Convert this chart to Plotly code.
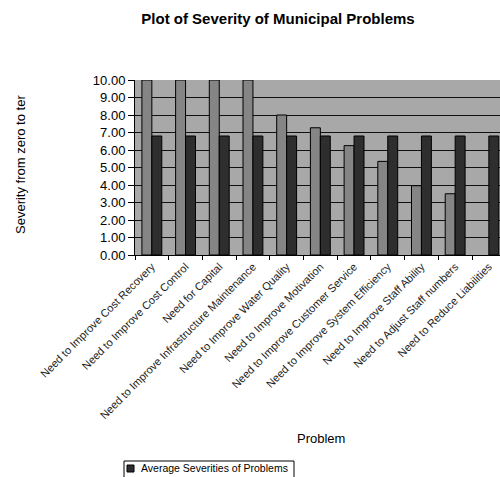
import plotly.graph_objects as go

# Problem categories and their severity scores
problems = [
    "Need to Improve Cost Recovery",
    "Need to Improve Cost Control",
    "Need for Capital",
    "Need to Improve Infrastructure Maintenance",
    "Need to Improve Water Quality",
    "Need to Improve Motivation",
    "Need to Improve Customer Service",
    "Need to Improve System Efficiency",
    "Need to Improve Staff Ability",
    "Need to Adjust Staff numbers",
    "Need to Reduce Liabilities",
]
severity = [10.0, 10.0, 10.0, 10.0, 8.0, 7.27, 6.25, 5.35, 3.96, 3.5, None]
average_severity = [6.8] * len(problems)
y_ticks = [0, 1, 2, 3, 4, 5, 6, 7, 8, 9, 10]
legend_label = "Average Severities of Problems"

FONT = "Liberation Sans, Arial, sans-serif"
GRAY_BAR = "#858585"
DARK_BAR = "#2E2E2E"

fig = go.Figure()
fig.add_trace(go.Bar(
    x=problems, y=severity, name="Severity",
    marker=dict(color=GRAY_BAR, line=dict(color="#000000", width=1)),
))
fig.add_trace(go.Bar(
    x=problems, y=average_severity, name=legend_label,
    marker=dict(color=DARK_BAR, line=dict(color="#000000", width=1)),
))

W, H = 500, 477
L, T, B = 135, 80, 222
plot_w = W - L
plot_h = H - T - B
cat_w = 33.7


# Convert page pixels into paper fractions of the plotting area
def px_x(px):
    return (px - L) / plot_w


def px_y(py):
    return (H - B - py) / plot_h


legend_shapes = [
    dict(type="rect", xref="paper", yref="paper",
         x0=px_x(124), x1=px_x(294), y0=px_y(461), y1=px_y(485),
         line=dict(color="#000000", width=1), fillcolor="white",
         layer="above"),
    dict(type="rect", xref="paper", yref="paper",
         x0=px_x(127), x1=px_x(134), y0=px_y(465), y1=px_y(472),
         line=dict(color="#000000", width=1), fillcolor=DARK_BAR,
         layer="above"),
]

fig.update_layout(
    width=W, height=H,
    margin=dict(l=L, r=0, t=T, b=B, pad=0),
    paper_bgcolor="white",
    plot_bgcolor="#A8A8A8",
    barmode="group",
    bargap=0.41,
    bargroupgap=0,
    showlegend=False,
    font=dict(family=FONT, color="#000000"),
    title=dict(
        text="<b>Plot of Severity of Municipal Problems</b>",
        x=0.556, xanchor="center", y=1 - 19 / H, yanchor="middle",
        font=dict(size=15, family=FONT),
    ),
    xaxis=dict(
        range=[-0.5, -0.5 + plot_w / cat_w],
        tickangle=-45,
        tickfont=dict(size=11, family=FONT, color="#222222"),
        ticks="outside", ticklen=4, tickcolor="#000000",
        tickson="boundaries",
        showline=True, linecolor="#000000", linewidth=1,
        showgrid=False,
        automargin=False,
    ),
    yaxis=dict(
        range=[0, 10],
        tickvals=y_ticks,
        tickformat=".2f",
        tickfont=dict(size=13, family=FONT),
        ticks="outside", ticklen=6, tickcolor="#000000",
        showline=True, linecolor="#000000", linewidth=1,
        showgrid=True, gridcolor="#111111", gridwidth=1.4,
        zeroline=False,
        automargin=False,
    ),
    shapes=legend_shapes,
    annotations=[
        dict(text="Severity from zero to ter", textangle=-90,
             xref="paper", yref="paper",
             x=px_x(20), y=px_y(165),
             xanchor="center", yanchor="middle", showarrow=False,
             font=dict(size=13, family=FONT)),
        dict(text="Problem",
             xref="paper", yref="paper",
             x=px_x(321), y=px_y(438),
             xanchor="center", yanchor="middle", showarrow=False,
             font=dict(size=13, family=FONT)),
        dict(text=legend_label,
             xref="paper", yref="paper",
             x=px_x(139), y=px_y(468.5),
             xanchor="left", yanchor="middle", showarrow=False,
             font=dict(size=10.5, family=FONT)),
    ],
)

fig.write_html("out.html")
